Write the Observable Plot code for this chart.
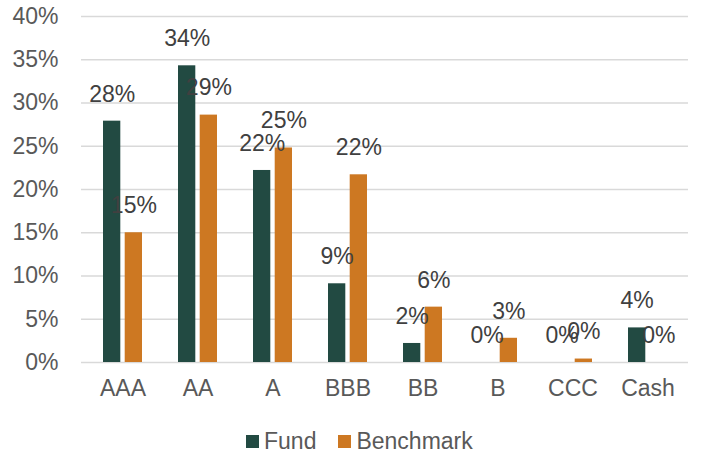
<!DOCTYPE html>
<html>
<head>
<meta charset="utf-8">
<script src="https://cdn.jsdelivr.net/npm/d3@7"></script>
<script src="https://cdn.jsdelivr.net/npm/@observablehq/plot@0.6"></script>
<style>
  html, body { margin: 0; padding: 0; background: #fff; }
  #wrap { position: relative; width: 704px; height: 457px; font-family: "Liberation Sans", Arial, sans-serif; }
  #legend { position: absolute; left: 246px; top: 427px; display: flex; align-items: center; font-size: 23px; line-height: 28px; color: #595959; }
  .item { display: flex; align-items: center; margin-right: 22px; }
  .sw { width: 13px; height: 13px; margin-right: 5px; }
</style>
</head>
<body>
<div id="wrap"><div id="chart"></div><div id="legend"></div></div>
<script>
const categories = ["AAA", "AA", "A", "BBB", "BB", "B", "CCC", "Cash"];
const fund = [27.9, 34.3, 22.2, 9.1, 2.2, 0, 0, 4.0];
const benchmark = [15.0, 28.6, 24.8, 21.7, 6.4, 2.8, 0.4, 0];
const series = ["Fund", "Benchmark"];
const colors = ["#224A42", "#CD7822"];
const yTicks = [0, 5, 10, 15, 20, 25, 30, 35, 40];

const fundData = categories.map((c, i) => ({category: c, value: fund[i]}));
const benchData = categories.map((c, i) => ({category: c, value: benchmark[i]}));
const pct = d => Math.round(d.value) + "%";

const plot = Plot.plot({
  width: 704,
  height: 418,
  marginLeft: 81,
  marginRight: 16,
  marginTop: 16,
  marginBottom: 56,
  style: {fontFamily: "'Liberation Sans', Arial, sans-serif", fontSize: "23px", background: "#fff"},
  x: {domain: categories, paddingInner: 0.486, paddingOuter: 0.243, label: null},
  y: {domain: [0, 40], label: null},
  marks: [
    Plot.ruleY(yTicks, {stroke: "#d9d9d9", strokeWidth: 1.4}),
    Plot.barY(fundData, {x: "category", y: "value", fill: colors[0], insetRight: 21.7}),
    Plot.barY(benchData, {x: "category", y: "value", fill: colors[1], insetLeft: 21.7}),
    Plot.text(fundData, {x: "category", y: "value", text: pct, dx: -10.85, dy: -27, fill: "#404040", fontSize: 23}),
    Plot.text(benchData, {x: "category", y: "value", text: pct, dx: 10.85, dy: -27, fill: "#404040", fontSize: 23}),
    Plot.axisY({ticks: yTicks, tickSize: 0, tickPadding: 23, tickFormat: d => d + "%", fill: "#595959", fontSize: 23, label: null}),
    Plot.axisX({tickSize: 0, tickPadding: 17, fill: "#595959", fontSize: 23, label: null})
  ]
});
document.getElementById("chart").appendChild(plot);

const legend = document.getElementById("legend");
series.forEach((s, i) => {
  const item = document.createElement("div");
  item.className = "item";
  const sw = document.createElement("div");
  sw.className = "sw";
  sw.style.background = colors[i];
  const t = document.createElement("span");
  t.textContent = s;
  item.appendChild(sw);
  item.appendChild(t);
  legend.appendChild(item);
});
</script>
</body>
</html>
